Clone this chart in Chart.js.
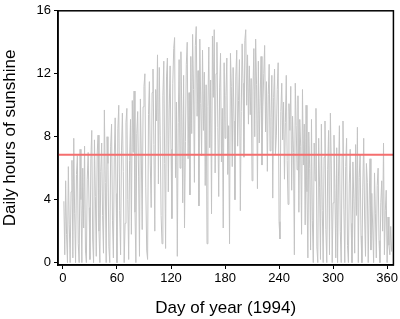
<!DOCTYPE html>
<html><head><meta charset="utf-8">
<script src="https://cdn.jsdelivr.net/npm/chart.js@4.4.1/dist/chart.umd.min.js"></script>
<style>html,body{margin:0;padding:0;background:#fff}#wrap{width:400px;height:319px}</style>
</head><body><div id="wrap"><canvas id="c" width="400" height="319"></canvas></div>
<script>
const sunshineHours = [
3.9,0.5,5.2,1.8,0,6.1,2.4,0,4.5,6.5,
0.3,7.9,3.1,0,5.6,6.8,1.2,0,7.2,4.0,
0,6.0,2.2,7.4,0.8,0,5.3,7.0,3.5,0.2,
6.6,8.4,1.5,0,7.8,4.2,0.4,6.9,8.1,2.0,
0,5.8,7.6,3.0,0.6,9.7,5.1,0,8.0,6.3,
1.0,0,7.4,8.8,2.7,0.3,6.7,9.2,4.4,0,
8.5,10.0,3.3,0.5,7.1,9.5,5.8,0,2.5,8.9,
9.8,4.0,0.2,6.5,9.1,1.8,10.3,7.0,10.9,3.2,
0,8.2,9.6,5.5,0.4,10.4,6.9,2.1,9.9,11.2,
12.0,4.8,0.8,0.2,9.4,11.5,6.2,3.5,10.8,12.3,
7.5,2.0,11.0,9.0,13.2,5.0,12.4,8.1,3.0,1.2,
10.6,12.8,6.3,0.9,11.8,13.0,4.5,9.7,12.5,7.2,
2.8,11.4,13.6,14.3,5.4,10.2,0.4,8.9,12.9,6.0,
13.4,9.5,3.8,11.9,2.2,7.7,12.6,14.0,6.6,10.8,
4.3,13.1,8.2,14.5,11.0,5.1,13.8,15.0,9.3,12.2,
3.6,14.2,10.1,6.8,13.5,8.4,12.1,4.9,11.3,1.2,
9.9,13.7,7.3,11.6,3.1,14.4,10.5,14.8,5.7,12.0,
14.0,8.6,4.2,11.1,13.3,6.4,9.8,2.2,12.7,7.9,
10.6,13.0,5.6,8.7,1.2,13.3,11.2,6.1,12.4,9.0,
4.0,11.8,13.5,7.4,10.3,12.9,3.3,9.6,13.9,11.4,
6.7,14.1,14.8,10.0,13.2,8.8,12.5,9.4,11.7,5.2,
10.9,13.6,8.0,14.2,11.3,4.7,12.8,7.6,10.4,13.1,
6.2,9.9,12.0,13.8,8.3,11.5,5.8,10.7,12.6,7.1,
9.2,11.9,4.1,10.5,12.3,6.9,8.1,11.0,12.7,2.6,
1.5,9.6,11.4,7.8,10.2,5.3,8.9,11.9,6.5,3.7,
10.1,8.4,11.2,4.6,9.3,7.0,0.5,11.4,8.7,5.9,
10.6,3.2,9.1,7.4,1.8,11.0,6.2,8.8,2.4,10.0,
4.5,0.3,8.3,6.0,0.8,9.1,2.7,0,7.6,5.2,
9.8,1.0,0,7.9,4.8,0.2,8.8,3.3,0,6.7,
9.0,2.1,0,5.9,8.4,0.5,9.5,6.2,0,3.8,
8.1,4.6,0.3,7.3,0,5.5,8.7,2.0,0,6.8,
9.0,3.4,0,6.1,7.9,1.1,0,5.0,7.2,2.5,
0,6.4,4.1,0.6,7.5,3.0,8.6,0,5.4,6.9,
1.7,0,4.8,7.9,2.9,0.4,6.3,5.1,0,3.6,
6.6,0.8,4.4,2.2,0,5.7,3.1,0.3,4.9,6.0,
1.4,0,3.8,5.2,2.0,7.6,0.5,3.3,4.6,0,
2.9,1.1,0.5,2.3,0.7
];
const meanHours = 6.85;
const xTickValues = [0,60,120,180,240,300,360];
const yTickValues = [0,4,8,12,16];
const xRange = [-5.5, 367];
const yRange = [-0.15, 16];

const lineData = sunshineHours.map((v,i)=>({x:i+1,y:v}));
const meanData = [{x:xRange[0],y:meanHours},{x:xRange[1],y:meanHours}];

const frame = {
  id:'frame',
  afterDraw(chart){
    const a = chart.chartArea, ctx = chart.ctx;
    ctx.save();
    ctx.strokeStyle='#000'; ctx.lineWidth=1.5;
    ctx.strokeRect(a.left, a.top, a.right-a.left, a.bottom-a.top);
    ctx.restore();
  }
};

new Chart(document.getElementById('c'), {
  type:'line',
  data:{datasets:[
    {data:lineData, borderColor:'rgb(195,195,195)', borderWidth:1, pointRadius:0, tension:0, order:2},
    {data:meanData, borderColor:'rgb(245,110,110)', borderWidth:2, pointRadius:0, order:1}
  ]},
  options:{
    responsive:false, animation:false, devicePixelRatio:1,
    layout:{padding:{top:5,right:2,left:0,bottom:0}},
    plugins:{legend:{display:false}, tooltip:{enabled:false}},
    scales:{
      x:{type:'linear', min:xRange[0], max:xRange[1],
        afterBuildTicks(s){ s.ticks = xTickValues.map(v=>({value:v})); },
        afterFit(s){ s.height = 54; },
        grid:{drawOnChartArea:false, tickLength:4, color:'#000', lineWidth:1},
        border:{display:true,color:'#000',width:1.5},
        ticks:{color:'#000', font:{family:'Liberation Sans, Arial', size:13}, padding:2, maxRotation:0, autoSkip:false},
        title:{display:true, text:'Day of year (1994)', color:'#000', font:{family:'Liberation Sans, Arial', size:17}, padding:{top:13,bottom:0}}
      },
      y:{type:'linear', min:yRange[0], max:yRange[1],
        afterBuildTicks(s){ s.ticks = yTickValues.map(v=>({value:v})); },
        afterFit(s){ s.width = 58; },
        grid:{drawOnChartArea:false, tickLength:4, color:'#000', lineWidth:1},
        border:{display:true,color:'#000',width:1.5},
        ticks:{color:'#000', font:{family:'Liberation Sans, Arial', size:13}, padding:3},
        title:{display:true, text:'Daily hours of sunshine', color:'#000', font:{family:'Liberation Sans, Arial', size:17}, padding:{top:0,bottom:8}}
      }
    }
  },
  plugins:[frame]
});
</script>
</body></html>
